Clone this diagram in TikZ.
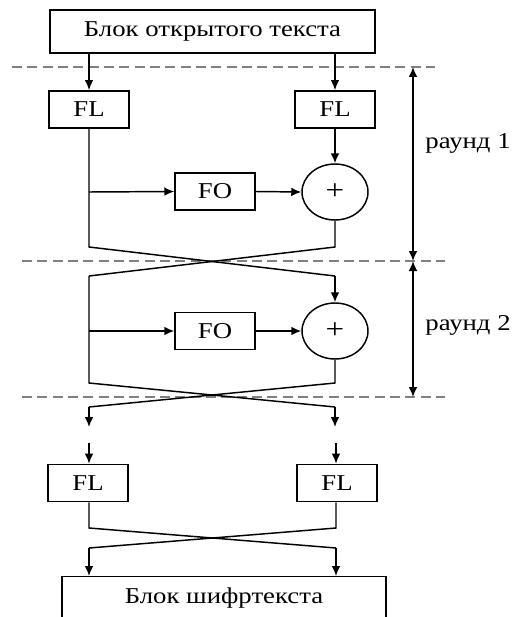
\documentclass[tikz,border=0pt]{standalone}
\usepackage{fontspec}
\setmainfont[FakeStretch=1.18]{Liberation Serif}
\usetikzlibrary{arrows.meta,shapes.geometric}
\begin{document}
\begin{tikzpicture}[x=0.75pt,y=-0.75pt,line width=1.1pt,
  txt/.style={font=\fontsize{17}{19}\selectfont},
  blk/.style={draw,rectangle,inner sep=0pt,txt},
  fl/.style={blk,minimum width=60pt,minimum height=28pt},
  xor/.style={draw,ellipse,inner sep=0pt,minimum width=49.5pt,minimum height=42pt,font=\fontsize{21}{23}\selectfont},
  arr/.style={-{Latex[length=7.5pt,width=6.5pt]}},
  darr/.style={{Latex[length=7.5pt,width=6.5pt]}-{Latex[length=7.5pt,width=6.5pt]}},
  sep/.style={draw=black!50,dash pattern=on 7.5pt off 4pt,line width=1.4pt},
  lbl/.style={txt,anchor=center}]
\clip (0,0) rectangle (516,617);
\fill[white] (0,0) rectangle (516,617);
% blocks
\node[blk,minimum width=243.75pt,minimum height=32.25pt] (top) at (212.5,31.5) {Блок открытого текста};
\node[fl] (fl1) at (89,109.5) {FL};
\node[fl] (fr1) at (335,109.5) {FL};
\node[fl] (fo1) at (215,191.5) {FO};
\node[xor] (x1) at (335,192) {+};
\node[fl] (fo2) at (215,331) {FO};
\node[xor] (x2) at (335,331) {+};
\node[fl] (fl3) at (88,483) {FL};
\node[fl] (fr3) at (337,483) {FL};
\node[draw,rectangle,minimum width=243pt,minimum height=60pt,anchor=north,inner sep=0pt] (bot) at (224,576) {};
\node[txt] (bott) at (224,598) {Блок шифртекста};
% separators
\coordinate (s1a) at (12,67); \coordinate (s1b) at (435,67);
\coordinate (s2a) at (22,261); \coordinate (s2b) at (445,261);
\coordinate (s3a) at (22,397); \coordinate (s3b) at (445,397);
\draw[sep] (s1a) -- (s1b);
\draw[sep] (s2a) -- (s2b);
\draw[sep] (s3a) -- (s3b);
% top arrows
\draw[arr] (fl1.north |- top.south) -- (fl1.north);
\draw[arr] (fr1.north |- top.south) -- (fr1.north);
\draw[arr] (fr1.south) -- (x1.north);
% round 1
\coordinate (b1) at (89,192);
\coordinate (l1) at (89,247); \coordinate (r1) at (335,247);
\coordinate (l1b) at (89,276); \coordinate (r1b) at (335,276);
\draw (fl1.south) -- (l1) -- (r1b);
\draw[arr] (b1) -- (fo1.west);
\draw[arr] (fo1.east) -- (x1.west);
\draw (x1.south) -- (r1) -- (l1b);
\draw[arr] (r1b) -- (x2.north);
% round 2
\coordinate (b2) at (89,331);
\coordinate (l2) at (89,383); \coordinate (r2) at (335,383);
\coordinate (l2b) at (89,407); \coordinate (r2b) at (335,407);
\coordinate (l2e) at (89,427); \coordinate (r2e) at (335,427);
\draw (l1b) -- (l2) -- (r2b);
\draw[arr] (b2) -- (fo2.west);
\draw[arr] (fo2.east) -- (x2.west);
\draw (x2.south) -- (r2) -- (l2b);
\draw[arr] (l2b) -- (l2e);
\draw[arr] (r2b) -- (r2e);
% final
\coordinate (l3s) at (89,443); \coordinate (r3s) at (336,443);
\draw[arr] (l3s) -- (l3s |- fl3.north);
\draw[arr] (r3s) -- (r3s |- fr3.north);
\coordinate (l3) at (89,528); \coordinate (r3) at (336,528);
\coordinate (l3b) at (89,548); \coordinate (r3b) at (336,548);
\draw (l3 |- fl3.south) -- (l3) -- (r3b);
\draw (r3 |- fr3.south) -- (r3) -- (l3b);
\draw[arr] (l3b) -- (l3b |- bot.north);
\draw[arr] (r3b) -- (r3b |- bot.north);
% round markers
\coordinate (m1) at (413,67); \coordinate (m2) at (413,261); \coordinate (m3) at (413,397);
\draw[darr] (m1) -- (m2);
\draw[darr] (m2) -- (m3);
\node[lbl] (r1l) at (468,143) {раунд 1};
\node[lbl] (r2l) at (468,325) {раунд 2};
\end{tikzpicture}
\end{document}
